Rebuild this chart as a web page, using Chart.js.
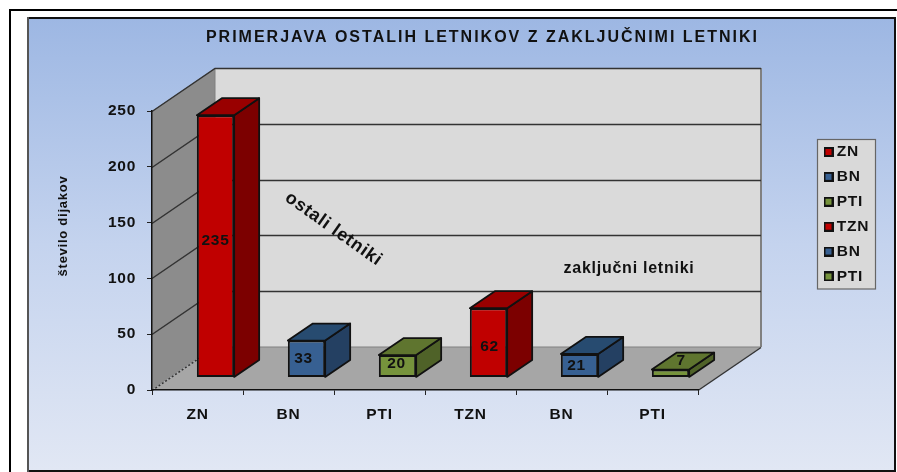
<!DOCTYPE html>
<html><head><meta charset="utf-8">
<style>html,body{margin:0;padding:0;background:#fff}canvas{display:block}</style>
<script src="https://cdn.jsdelivr.net/npm/chart.js@4"></script>
</head><body>
<canvas id="c" width="897" height="472"></canvas>
<script>
const categories = ['ZN','BN','PTI','TZN','BN','PTI'];
const values = [235,33,20,62,21,7];
const yTicks = [0,50,100,150,200,250];
const titleText = 'PRIMERJAVA OSTALIH LETNIKOV Z ZAKLJUČNIMI LETNIKI';
const yTitle = 'število dijakov';
const noteLeft = 'ostali letniki';
const noteRight = 'zaključni letniki';

const FF = '"Liberation Sans", Arial, sans-serif';
const INK = '#111';
const SPACING = '0.75px';
const palette = {
  red:   {front:'#C00000', top:'#990000', side:'#7C0000'},
  blue:  {front:'#376092', top:'#274B70', side:'#244062'},
  green: {front:'#76933C', top:'#5F752F', side:'#4F6228'}
};
const barColors = [palette.red,palette.blue,palette.green,palette.red,palette.blue,palette.green];
const nudges = [[0,-5],[-3,0],[-1,-2],[1,4.5],[-3,0],[10.7,-13]];

const WALL = {dx:63, dy:-43};
const PLANE = {dx:18, dy:-12.6};
const BOX = {dx:25, dy:-17};

function poly(ctx, pts, fill, stroke, lw){
  ctx.beginPath();
  pts.forEach((p,i)=> i?ctx.lineTo(p[0],p[1]):ctx.moveTo(p[0],p[1]));
  ctx.closePath();
  if(fill){ctx.fillStyle=fill;ctx.fill();}
  if(stroke){ctx.strokeStyle=stroke;ctx.lineWidth=lw||1;ctx.stroke();}
}
function swatch(color){
  const s=document.createElement('canvas'); s.width=10; s.height=10;
  const g=s.getContext('2d');
  g.fillStyle='#111'; g.fillRect(0,0,10,10);
  g.fillStyle=color; g.fillRect(2,2,6,6);
  return s;
}
function txt(ctx,str,x,y,font,rot,align){
  ctx.save();
  ctx.translate(x,y); if(rot) ctx.rotate(rot);
  ctx.font=font; ctx.fillStyle=INK; ctx.textAlign=align||'center'; ctx.textBaseline='middle';
  ctx.fillText(str,0,0);
  ctx.restore();
}

const scene = {
  id:'scene',
  beforeLayout(chart){
    const lg=chart.legend, fit=lg.fit;
    if(!lg._wrapped){
      lg._wrapped=true;
      lg.fit=function(){ fit.call(this); this.width=199; };
    }
  },
  beforeDraw(chart){
    const {ctx,scales:{x,y}} = chart;
    ctx.letterSpacing=SPACING;
    // relocate title and legend
    const tb=chart.titleBlock; tb.left=105; tb.right=860;
    if(!tb._wrapped){
      tb._wrapped=true;
      const d=tb.draw;
      tb.draw=function(a){ ctx.letterSpacing='2px'; d.call(this,a); ctx.letterSpacing=SPACING; };
    }
    const lg=chart.legend, pad=lg.options.labels.padding;
    lg.left=828-pad; lg.right=897; lg.width=70; lg.top=144.2-pad; lg.bottom=340;

    ctx.save();
    ctx.fillStyle='#fff'; ctx.fillRect(0,0,897,472);
    ctx.fillStyle='#000';
    ctx.fillRect(9,9,888,2); ctx.fillRect(9,9,2,463);
    const g=ctx.createLinearGradient(0,18,0,470);
    g.addColorStop(0,'#9DB7E3'); g.addColorStop(0.5,'#C4D3EE'); g.addColorStop(1,'#E1E7F4');
    ctx.fillStyle=g; ctx.fillRect(27,17,868,455);
    ctx.fillStyle='#111'; ctx.fillRect(27,17,868,2); ctx.fillRect(27,470,868,2); ctx.fillRect(894,17,2,455);
    ctx.fillStyle='#555'; ctx.fillRect(27,17,2,455);

    // walls
    const L=x.left,R=x.right,T=y.getPixelForValue(yTicks[yTicks.length-1]),B=y.getPixelForValue(0);
    const dx=WALL.dx,dy=WALL.dy;
    poly(ctx,[[L,T],[L+dx,T+dy],[L+dx,B+dy],[L,B]],'#8C8C8C');
    poly(ctx,[[L+dx,T+dy],[R+dx,T+dy],[R+dx,B+dy],[L+dx,B+dy]],'#DADADA');
    poly(ctx,[[L,B],[L+dx,B+dy],[R+dx,B+dy],[R,B]],'#A6A6A6');
    // wall edges
    ctx.lineWidth=1; ctx.strokeStyle='#808080';
    ctx.beginPath(); ctx.moveTo(L+dx,T+dy); ctx.lineTo(L+dx,B+dy); ctx.stroke();
    ctx.beginPath(); ctx.moveTo(L+dx,B+dy); ctx.lineTo(R+dx,B+dy); ctx.stroke();
    ctx.lineWidth=2; ctx.beginPath(); ctx.moveTo(R+dx,T+dy); ctx.lineTo(R+dx,B+dy); ctx.stroke();
    // gridlines
    ctx.strokeStyle='#333'; ctx.lineWidth=1.5;
    yTicks.forEach(v=>{
      const p=Math.round(y.getPixelForValue(v))+0.5;
      ctx.beginPath();
      if(v===0){ ctx.setLineDash([2,2]); ctx.moveTo(L,p); ctx.lineTo(L+dx,p+dy); ctx.stroke(); ctx.setLineDash([]);
        ctx.beginPath(); ctx.moveTo(R,p); ctx.lineTo(R+dx,p+dy); ctx.stroke(); return; }
      ctx.moveTo(L,p); ctx.lineTo(L+dx,p+dy); ctx.lineTo(R+dx,p+dy); ctx.stroke();
    });
    // legend panel
    ctx.fillStyle='#D9D9D9'; ctx.fillRect(817.5,139.5,58,149.5);
    ctx.strokeStyle='#666'; ctx.lineWidth=1.2; ctx.strokeRect(817.5,139.5,58,149.5);
    ctx.restore();

    txt(ctx,yTitle,63,226,'bold 13px '+FF,-Math.PI/2);
  },
  beforeDatasetsDraw(chart){
    const {ctx}=chart;
    ctx.save();
    ctx.translate(PLANE.dx,PLANE.dy);
    const meta=chart.getDatasetMeta(0);
    meta.data.forEach((bar,i)=>{
      const l=bar.x-bar.width/2, r=bar.x+bar.width/2, t=bar.y, b=bar.base, c=barColors[i];
      ctx.lineJoin='round';
      poly(ctx,[[r,t],[r+BOX.dx,t+BOX.dy],[r+BOX.dx,b+BOX.dy],[r,b]],c.side,'#111',1.8);
      poly(ctx,[[l,t],[l+BOX.dx,t+BOX.dy],[r+BOX.dx,t+BOX.dy],[r,t]],c.top,'#111',1.8);
    });
  },
  afterDatasetsDraw(chart){
    const {ctx}=chart;
    const meta=chart.getDatasetMeta(0);
    meta.data.forEach((bar,i)=>{
      txt(ctx,String(values[i]),bar.x+nudges[i][0],(bar.y+bar.base)/2+nudges[i][1],'bold 15.5px '+FF);
    });
    ctx.restore();
    txt(ctx,noteLeft,333.5,229,'bold 18px '+FF,Math.atan2(66,93));
    txt(ctx,noteRight,629,269,'bold 16px '+FF);
  }
};

new Chart(document.getElementById('c').getContext('2d'),{
  type:'bar',
  data:{labels:categories,datasets:[{
    data:values,
    backgroundColor:barColors.map(c=>c.front),
    borderColor:'#111',borderWidth:2,borderSkipped:false,
    categoryPercentage:1,barPercentage:0.41,clip:false
  }]},
  plugins:[scene],
  options:{
    responsive:false,animation:false,
    layout:{padding:0},
    plugins:{
      tooltip:{enabled:false},
      title:{display:true,text:titleText,color:INK,font:{family:FF,size:16,weight:'bold',lineHeight:1.2},
        padding:{top:28,bottom:63.8}},
      legend:{display:true,position:'right',align:'start',
        labels:{
          color:INK,font:{family:FF,size:15.5,weight:'bold'},padding:9.4,
          usePointStyle:true,pointStyleWidth:1,
          generateLabels:()=>categories.map((t,i)=>({text:t,pointStyle:swatch(barColors[i].front),fillStyle:barColors[i].front,strokeStyle:'#111',lineWidth:1,hidden:false,index:i,datasetIndex:0,fontColor:INK}))
        }}
    },
    scales:{
      x:{afterFit:s=>{s.height=82;},
        border:{color:'#111',width:1.5},
        grid:{drawOnChartArea:false,tickLength:5,color:'#222',offset:true},
        ticks:{color:INK,padding:10,font:{family:FF,size:15.5,weight:'bold'},maxRotation:0}},
      y:{min:0,max:250,afterFit:s=>{s.width=152;},
        afterBuildTicks:s=>{s.ticks=yTicks.map(v=>({value:v}));},
        border:{color:'#111',width:1.5},
        grid:{drawOnChartArea:false,tickLength:5,color:'#222'},
        ticks:{color:INK,padding:11,font:{family:FF,size:15.5,weight:'bold'}}}
    }
  }
});
</script>
</body></html>
